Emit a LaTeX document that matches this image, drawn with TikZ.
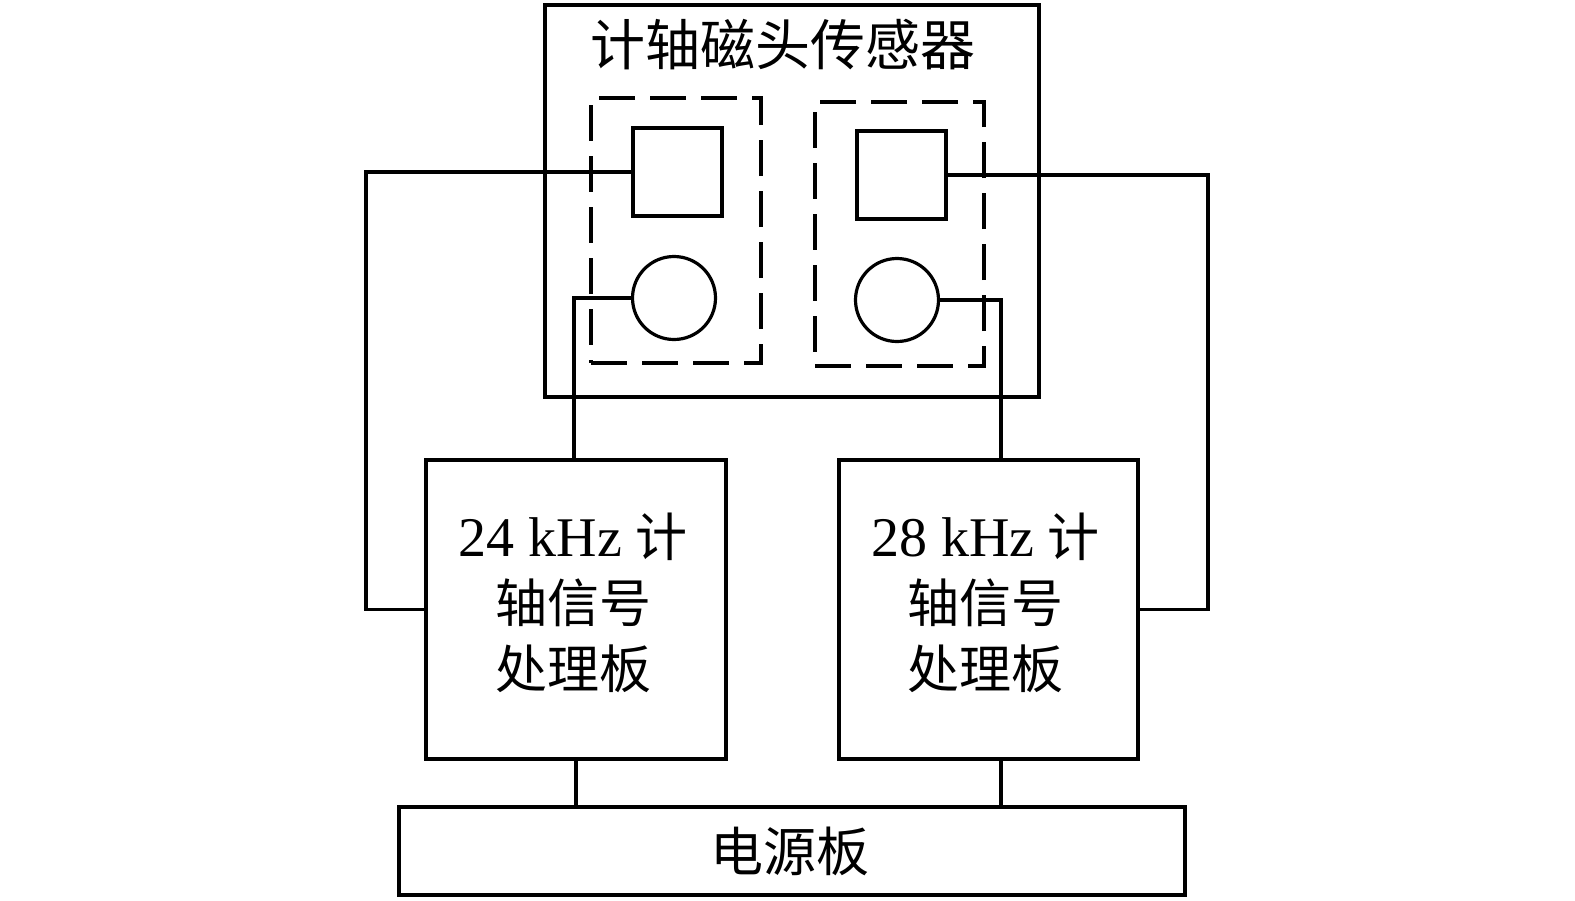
\documentclass[tikz,border=0pt]{standalone}
\usepackage{fontspec}
\setmainfont{Liberation Serif}
\newfontfamily\cjk{Noto Sans CJK SC}
\usetikzlibrary{calc}
\begin{document}
\begin{tikzpicture}[x=1pt,y=-1pt,
  box/.style={draw,line width=3.4pt,inner sep=0pt,outer sep=0pt},
  dbox/.style={draw,line width=3.2pt,dash pattern=on 36pt off 15pt,inner sep=0pt},
  wire/.style={line width=3.3pt},
  lbl/.style={align=center,font=\fontsize{52}{66}\selectfont}]
\useasboundingbox (0,0) rectangle (1575,900);
% sensor enclosure
\node[box,minimum width=494,minimum height=392] (sensor) at (792,201) {};
\node[lbl,font=\fontsize{55}{66}\selectfont\cjk] (title) at (783,45) {计轴磁头传感器};
% dashed groups
\node[dbox,minimum width=170,minimum height=265] (g1) at (676,230.5) {};
\node[dbox,minimum width=169,minimum height=264] (g2) at (899.5,234) {};
% squares and circles
\node[box,minimum width=89,minimum height=88] (s1) at (677.5,172) {};
\node[box,minimum width=89,minimum height=88] (s2) at (901.5,175) {};
\node[circle,draw,line width=3.2pt,minimum size=83,inner sep=0pt] (c1) at (674,298) {};
\node[circle,draw,line width=3.2pt,minimum size=83,inner sep=0pt] (c2) at (897,300) {};
% processor boards
\node[box,minimum width=300,minimum height=299] (b1) at (576,609.5) {};
\node[box,minimum width=299,minimum height=299] (b2) at (988.5,609.5) {};
\node[lbl] (t1) at (573,603) {{\fontsize{56}{66}\selectfont 24 kHz} {\cjk 计}\\{\cjk 轴信号}\\{\cjk 处理板}};
\node[lbl] (t2) at (985.5,603) {{\fontsize{56}{66}\selectfont 28 kHz} {\cjk 计}\\{\cjk 轴信号}\\{\cjk 处理板}};
% power board
\node[box,minimum width=786,minimum height=88] (p) at (792,851) {};
\node[lbl,font=\fontsize{53}{66}\selectfont\cjk] (pt) at (790,851) {电源板};
% routing coordinates
\coordinate (wl) at (366,0);
\coordinate (wr) at (1208,0);
\coordinate (cl) at (574,0);
\coordinate (cr) at (1001,0);
% connectors
\draw[wire] (s1.west) -| (wl |- b1.west) -- (b1.west);
\draw[wire] (s2.east) -| (wr |- b2.east) -- (b2.east);
\draw[wire] (c1.west) -| (cl |- b1.north);
\draw[wire] (c2.east) -| (cr |- b2.north);
\draw[wire] (b1.south) -- (b1.south |- p.north);
\draw[wire] (cr |- b2.south) -- (cr |- p.north);
\end{tikzpicture}
\end{document}
